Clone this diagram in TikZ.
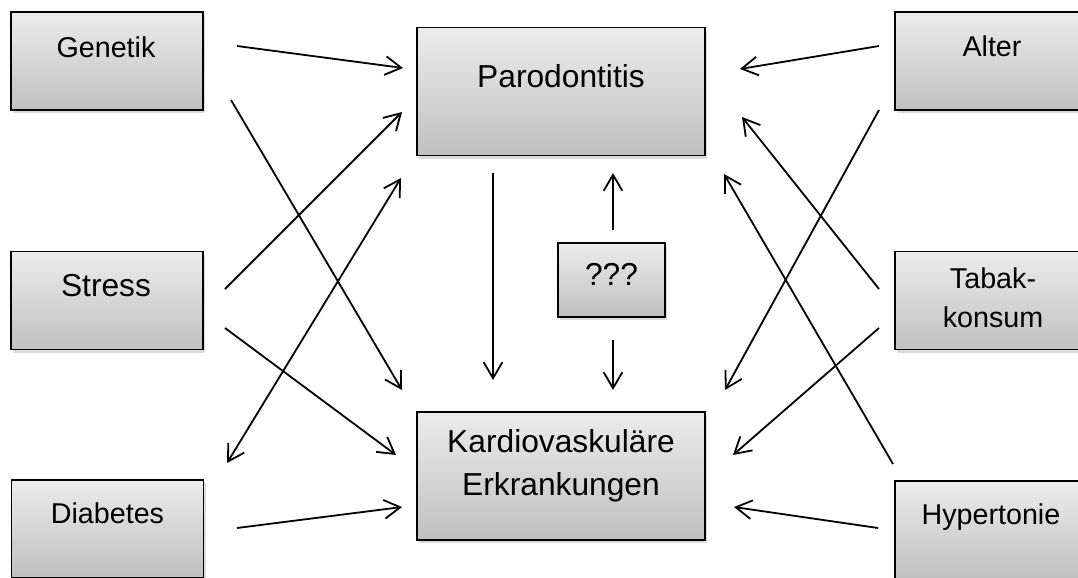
\documentclass[tikz,border=0pt]{standalone}
\usepackage{fontspec}
\setmainfont{Liberation Sans}
\usetikzlibrary{arrows.meta,shadows}
\definecolor{boxtop}{RGB}{236,236,236}
\definecolor{boxbot}{RGB}{192,192,192}
\begin{document}
\begin{tikzpicture}[x=0.75pt,y=-0.75pt,
  box/.style={draw=black, line width=1.4pt, top color=boxtop, bottom color=boxbot,
    inner sep=0pt, outer sep=0pt,
    drop shadow={shadow xshift=1.5pt, shadow yshift=-2.5pt, opacity=0.28}},
  side/.style={box, minimum width=144pt, minimum height=73.5pt},
  big/.style={box, minimum width=216pt, minimum height=96pt},
  lbl/.style={anchor=base, inner sep=0pt, font=\fontsize{21.5}{26}\selectfont},
  lblbig/.style={anchor=base, inner sep=0pt, font=\fontsize{23.8}{28}\selectfont},
  arr/.style={line width=1.35pt, -{Straight Barb[length=12pt,width=14pt]}},
  darr/.style={line width=1.35pt, {Straight Barb[length=12pt,width=14pt]}-{Straight Barb[length=12pt,width=14pt]}},
]
\useasboundingbox (0,0) rectangle (1078,578);
\clip (0,0) rectangle (1078,578);

% boxes
\node[side] (gen) at (107,61) {};
\node[side] (str) at (107,300.5) {};
\node[side] (dia) at (107.5,529) {};
\node[side] (alt) at (991,61) {};
\node[side] (tab) at (991,300.5) {};
\node[side] (hyp) at (991,530) {};
\node[big] (par) at (561,91.5) {};
\node[big] (kar) at (561,476) {};
\node[box, minimum width=80.25pt, minimum height=55.5pt] (qqq) at (611.5,280) {};

% texts
\node[lbl] (gent) at (106,57) {Genetik};
\node[lblbig] (strt) at (106,296.5) {Stress};
\node[lbl] (diat) at (107.5,523) {Diabetes};
\node[lbl] (altt) at (992,56) {Alter};
\node[lbl] (tabt1) at (993,288) {Tabak-};
\node[lbl] (tabt2) at (993,327) {konsum};
\node[lbl] (hypt) at (991,524) {Hypertonie};
\node[lblbig] (part) at (561,87.5) {Parodontitis};
\node[lblbig] (kart1) at (561,452.5) {Kardiovaskuläre};
\node[lblbig] (kart2) at (561,495) {Erkrankungen};
\node[lblbig] (qqqt) at (611.5,285) {???};

% connector end points
\coordinate (g1) at (237,46);   \coordinate (p1) at (403,68);
\coordinate (g2) at (231,100);  \coordinate (k1) at (402,390);
\coordinate (s1) at (225,289);  \coordinate (p2) at (402,112);
\coordinate (s2) at (225,328);  \coordinate (k2) at (396,455);
\coordinate (p3) at (401,178);  \coordinate (d1) at (227,463);
\coordinate (d2) at (237,528);  \coordinate (k3) at (402,507);
\coordinate (p4) at (493,173);  \coordinate (k4) at (493,380);
\coordinate (q1) at (613,230);  \coordinate (p5) at (613,173);
\coordinate (q2) at (613,340);  \coordinate (k5) at (613,390);
\coordinate (a1) at (879,46);   \coordinate (p6) at (740,69);
\coordinate (a2) at (879,110);  \coordinate (k6) at (725,390);
\coordinate (t1) at (879,289);  \coordinate (p7) at (742,117);
\coordinate (t2) at (879,328);  \coordinate (k7) at (733,455);
\coordinate (h1) at (893,464);  \coordinate (p8) at (724,174);
\coordinate (h2) at (878,528);  \coordinate (k8) at (734,507);

% connectors
\draw[arr] (g1) -- (p1);
\draw[arr] (g2) -- (k1);
\draw[arr] (s1) -- (p2);
\draw[arr] (s2) -- (k2);
\draw[darr] (p3) -- (d1);
\draw[arr] (d2) -- (k3);
\draw[arr] (p4) -- (k4);
\draw[arr] (q1) -- (p5);
\draw[arr] (q2) -- (k5);
\draw[arr] (a1) -- (p6);
\draw[arr] (a2) -- (k6);
\draw[arr] (t1) -- (p7);
\draw[arr] (t2) -- (k7);
\draw[arr] (h1) -- (p8);
\draw[arr] (h2) -- (k8);
\end{tikzpicture}
\end{document}
